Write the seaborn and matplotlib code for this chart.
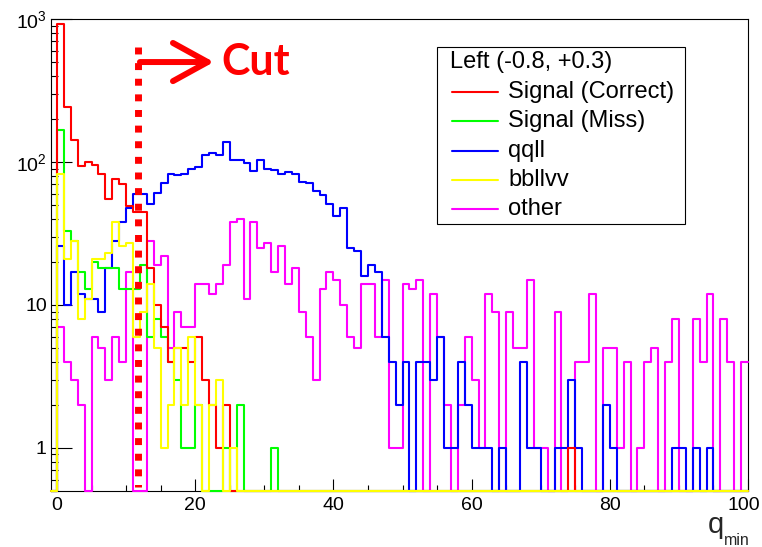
import numpy as np
import pandas as pd
import matplotlib
matplotlib.use("Agg")
import matplotlib.pyplot as plt
import seaborn as sns
from matplotlib.patches import Rectangle
from matplotlib.lines import Line2D
from matplotlib.transforms import Affine2D, ScaledTranslation
from matplotlib.ticker import FixedLocator, LogLocator, MultipleLocator, NullFormatter

# Event counts per unit-wide bin of q_min: [0,1), [1,2), ..., [99,100)
signal_correct = [920, 244, 142, 93, 100, 95, 82, 55, 76, 70,
                  49, 45, 45, 18, 10, 7, 4, 5, 5, 4,
                  6, 3, 2, 1, 2, 0, 0, 0, 0, 0,
                  0, 0, 0, 0, 0, 0, 0, 0, 0, 0,
                  0, 0, 0, 0, 0, 0, 0, 0, 0, 0,
                  0, 0, 0, 0, 0, 0, 0, 0, 0, 0,
                  0, 0, 0, 0, 0, 0, 0, 0, 0, 0,
                  0, 0, 0, 0, 1, 0, 0, 0, 0, 0,
                  0, 0, 0, 0, 0, 0, 0, 0, 0, 0,
                  0, 0, 0, 0, 0, 0, 0, 0, 0, 0]

signal_miss = [167, 33, 28, 17, 13, 20, 18, 18, 18, 13,
               13, 13, 19, 6, 8, 6, 4, 3, 1, 1,
               2, 0, 0, 0, 1, 0, 2, 0, 0, 0,
               0, 1, 0, 0, 0, 0, 0, 0, 0, 0,
               0, 0, 0, 0, 0, 0, 0, 0, 0, 0,
               0, 0, 0, 0, 0, 0, 0, 0, 0, 0,
               0, 0, 0, 0, 0, 0, 0, 0, 0, 0,
               0, 0, 0, 0, 0, 0, 0, 0, 0, 0,
               0, 0, 0, 0, 0, 0, 0, 0, 0, 0,
               0, 0, 0, 0, 0, 0, 0, 0, 0, 0]

qqll = [26, 10, 17, 12, 11, 11, 9, 18, 28, 38,
        48, 60, 60, 51, 61, 71, 83, 81, 83, 90,
        92, 112, 115, 112, 139, 103, 104, 99, 86, 103,
        90, 88, 83, 85, 83, 73, 71, 63, 59, 51,
        42, 48, 25, 24, 16, 19, 17, 6, 4, 2,
        4, 0, 4, 4, 3, 6, 1, 1, 4, 2,
        1, 1, 1, 0, 1, 0, 0, 4, 1, 1,
        0, 0, 1, 1, 3, 1, 0, 0, 0, 2,
        1, 0, 0, 0, 0, 0, 0, 0, 0, 1,
        1, 0, 1, 0, 1, 0, 0, 0, 0, 0]

bbllvv = [83, 21, 28, 8, 11, 21, 21, 23, 38, 26,
          27, 6, 9, 14, 5, 1, 2, 5, 2, 6,
          2, 0, 2, 3, 0, 1, 0, 0, 0, 0,
          0, 0, 0, 0, 0, 0, 0, 0, 0, 0,
          0, 0, 0, 0, 0, 0, 0, 0, 0, 0,
          0, 0, 0, 0, 0, 0, 0, 0, 0, 0,
          0, 0, 0, 0, 0, 0, 0, 0, 0, 0,
          0, 0, 0, 0, 0, 0, 0, 0, 0, 0,
          0, 0, 0, 0, 0, 0, 0, 0, 0, 0,
          0, 0, 0, 0, 0, 0, 0, 0, 0, 0]

other = [7, 4, 3, 2, 0, 6, 5, 3, 6, 4,
         17, 0, 0, 28, 19, 22, 5, 9, 7, 7,
         14, 14, 12, 14, 19, 38, 40, 11, 38, 25,
         27, 17, 26, 14, 18, 9, 6, 3, 13, 17,
         15, 10, 6, 5, 14, 14, 6, 15, 1, 1,
         14, 13, 15, 0, 12, 6, 2, 0, 2, 6,
         3, 1, 12, 9, 0, 9, 5, 5, 15, 1,
         1, 0, 9, 0, 0, 4, 4, 12, 0, 5,
         5, 1, 4, 0, 1, 4, 5, 0, 4, 8,
         0, 0, 8, 4, 12, 0, 8, 4, 0, 4]

series_names = ["Signal (Correct)", "Signal (Miss)", "qqll", "bbllvv", "other"]
series_colors = ["#ff0000", "#00ff00", "#0000ff", "#ffff00", "#ff00ff"]
legend_title = "Left (-0.8, +0.3)"

x_ticks = [0, 20, 40, 60, 80, 100]
y_ticks = [1, 10, 100, 1000]
y_tick_labels = ["1", "10", r"$\mathregular{10^{2}}$", r"$\mathregular{10^{3}}$"]

cut_value = 11.7
x_lo, x_hi = -0.87, 100
y_lo, y_hi = 0.5, 1000

sns.set_theme(style="white")
plt.rcParams["font.family"] = ["Liberation Sans", "DejaVu Sans"]
plt.rcParams["mathtext.fontset"] = "custom"
plt.rcParams["mathtext.rm"] = "Liberation Sans"
plt.rcParams["mathtext.it"] = "Liberation Sans:italic"

W, H = 762, 547
fig = plt.figure(figsize=(W / 100, H / 100), dpi=100)
fig.patch.set_facecolor("white")
ax_l, ax_r, ax_t, ax_b = 51, 748, 19, 491
ax = fig.add_axes([ax_l / W, 1 - ax_b / H, (ax_r - ax_l) / W, (ax_b - ax_t) / H])
ax.set_facecolor("white")

# pixel-based transform for figure decorations
pix = Affine2D().scale(1 / W, -1 / H).translate(0, 1) + fig.transFigure

# histogram bins: an empty leading bin up to 0, then unit bins
edges = np.concatenate([[x_lo], np.arange(0, 101)])
centers = 0.5 * (edges[:-1] + edges[1:])

def shown(counts):
    c = np.concatenate([[0], np.asarray(counts, dtype=float)])
    # empty bins are drawn along the bottom of the frame
    return np.where(c > 0, c, y_lo)

all_series = [signal_correct, signal_miss, qqll, bbllvv, other]
draw_order = [4, 2, 1, 0, 3]
for z, idx in enumerate(draw_order):
    frame = pd.DataFrame({"q_min": centers, "events": shown(all_series[idx])})
    sns.histplot(data=frame, x="q_min", weights="events", bins=list(edges),
                 element="step", fill=False, color=series_colors[idx],
                 linewidth=1.5, ax=ax)
    line = ax.lines[-1]
    line.set_zorder(3 + z)
    line.set_clip_on(False)

ax.set_yscale("log")
ax.set_xlim(x_lo, x_hi)
ax.set_ylim(y_lo, y_hi)
ax.set_xlabel("")
ax.set_ylabel("")

for sp in ax.spines.values():
    sp.set_visible(True)
    sp.set_color("black")
    sp.set_linewidth(0.8)
    sp.set_zorder(2)

ax.xaxis.set_major_locator(FixedLocator(x_ticks))
ax.xaxis.set_minor_locator(MultipleLocator(5))
ax.set_xticklabels([str(t) for t in x_ticks])
ax.yaxis.set_major_locator(FixedLocator(y_ticks))
ax.set_yticklabels(y_tick_labels)
ax.yaxis.set_minor_locator(LogLocator(base=10, subs=np.arange(2, 10), numticks=20))
ax.yaxis.set_minor_formatter(NullFormatter())

ax.tick_params(axis="both", which="both", direction="in", colors="black",
               labelcolor="black", width=0.8, top=False, right=False,
               bottom=True, left=True, labelsize=14)
ax.tick_params(axis="x", which="major", length=9, pad=4.5)
ax.tick_params(axis="x", which="minor", length=4.5)
ax.tick_params(axis="y", which="major", length=15, pad=3)
ax.tick_params(axis="y", which="minor", length=5)
ax.grid(False)

# keep the last x label inside the canvas
last_label = ax.get_xticklabels()[-1]
last_label.set_transform(last_label.get_transform()
                         + ScaledTranslation(-4 / 100, 0, fig.dpi_scale_trans))

# cut marker
ax.plot([cut_value, cut_value], [640, 0.53], color="#ff0000", lw=5,
        linestyle=(0, (1, 1.25)), dash_capstyle="butt", zorder=10, clip_on=False)
ax.annotate("", xy=(22.7, 500), xytext=(12.0, 500),
            arrowprops=dict(arrowstyle="->, head_length=1.0, head_width=0.55",
                            color="#ff0000", lw=4.3, mutation_scale=25,
                            shrinkA=0, shrinkB=0),
            zorder=10)
ax.text(23.8, 500, "Cut", color="#ff0000", fontsize=31, fontweight="bold",
        family=["Lato", "DejaVu Sans"], ha="left", va="center", zorder=10)

# legend box
fig.add_artist(Rectangle((437, 224), 248, -177, transform=pix, facecolor="white",
                         edgecolor="black", linewidth=0.8, zorder=20))
fig.text(450, 62, legend_title, transform=pix, fontsize=17, ha="left",
         va="center", color="black", zorder=21)
row_y = [92, 121, 151, 180, 209]
for name, col, yy in zip(series_names, series_colors, row_y):
    fig.add_artist(Line2D([452, 498], [yy, yy], transform=pix, color=col,
                          linewidth=1.5, zorder=21))
    fig.text(508, yy, name, transform=pix, fontsize=17, ha="left",
             va="center", color="black", zorder=21)

# axis title
fig.text(708, 533, "q", transform=pix, fontsize=21, ha="left", va="baseline")
fig.text(724, 545, "min", transform=pix, fontsize=11.5, ha="left", va="baseline")

fig.savefig("out.png", dpi=100, facecolor="white")
